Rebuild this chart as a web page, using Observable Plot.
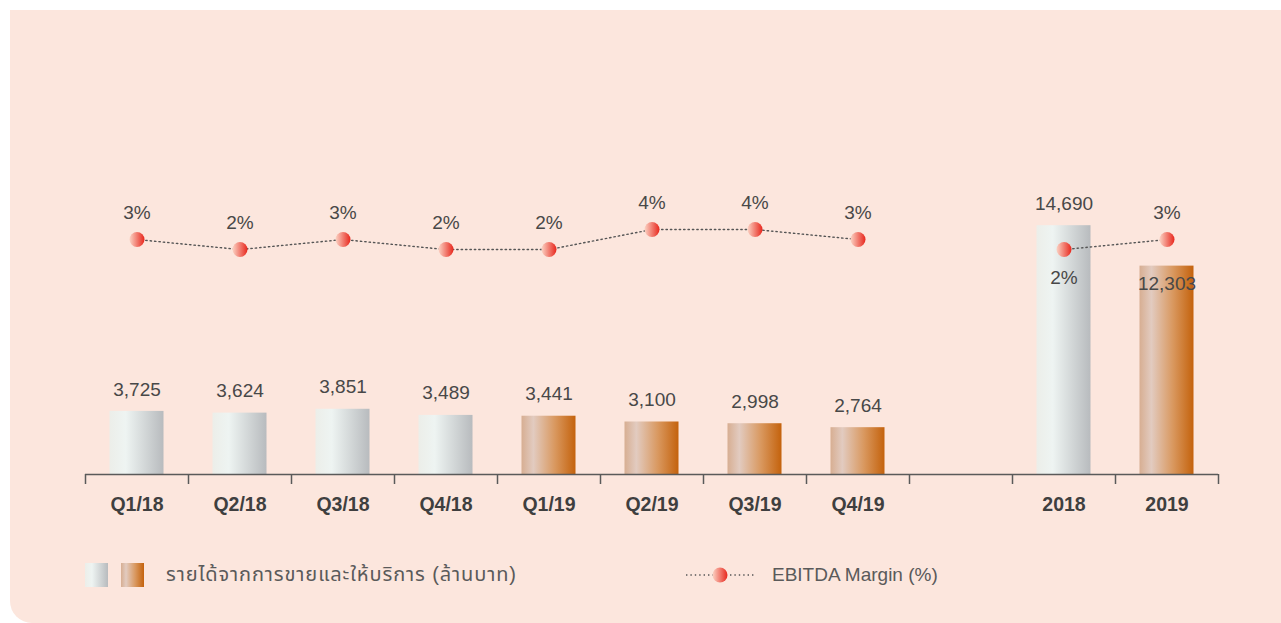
<!DOCTYPE html>
<html>
<head>
<meta charset="utf-8">
<script src="https://cdn.jsdelivr.net/npm/d3@7"></script>
<script src="https://cdn.jsdelivr.net/npm/@observablehq/plot@0.6"></script>
<style>
  html, body { margin: 0; padding: 0; background: #ffffff; overflow: hidden; }
  #panel {
    position: absolute; left: 10px; top: 10px; width: 1271px; height: 613px;
    background: #fce6dd; border-bottom-left-radius: 22px;
    font-family: "Liberation Sans", "Noto Sans Thai", "Loma", sans-serif;
  }
  #chart { position: absolute; left: 0; top: 0; }
  .legend { position: absolute; top: 553px; height: 24px; display: flex; align-items: center; color: #5a5a5a; font-size: 19px; }
  .sw { width: 23px; height: 24px; display: inline-block; }
  .gray { background: linear-gradient(to right, #eceee9 0%, #eef4f2 30%, #b8bbbe 100%); }
  .orange { background: linear-gradient(to right, #d7ae92 0%, #e2cbc0 22%, #d9985f 62%, #c4620c 100%); }
</style>
</head>
<body>
<div id="panel">
  <div id="chart"></div>
  <div class="legend" style="left:75px">
    <span class="sw gray"></span>
    <span class="sw orange" style="margin-left:13px"></span>
    <span style="margin-left:22px; font-size:20px; letter-spacing:0.9px">รายได้จากการขายและให้บริการ (ล้านบาท)</span>
  </div>
  <div class="legend" style="left:676px">
    <svg width="70" height="24">
      <defs>
        <linearGradient id="lgMarker" x1="0" x2="1" y1="0" y2="0">
          <stop offset="0%" stop-color="#fbd3c4"/>
          <stop offset="100%" stop-color="#e8271d"/>
        </linearGradient>
      </defs>
      <line x1="0" x2="68" y1="12" y2="12" stroke="#555" stroke-width="1.4" stroke-dasharray="1.4,3"/>
      <circle cx="34" cy="12" r="7.5" fill="url(#lgMarker)"/>
    </svg>
    <span style="margin-left:16px">EBITDA Margin (%)</span>
  </div>
</div>
<script>
// ---- data ----
const quarters = ["Q1/18", "Q2/18", "Q3/18", "Q4/18", "Q1/19", "Q2/19", "Q3/19", "Q4/19"];
const quarterYear = ["2018", "2018", "2018", "2018", "2019", "2019", "2019", "2019"];
const revenueQ = [3725, 3624, 3851, 3489, 3441, 3100, 2998, 2764];
const marginQ = [3, 2, 3, 2, 2, 4, 4, 3];
const years = ["2018", "2019"];
const revenueY = [14690, 12303];
const marginY = [2, 3];
const gapLabel = "gap";
const categories = [...quarters, gapLabel, ...years];

// ---- tables ----
const rows = [
  ...quarters.map((c, i) => ({cat: c, year: quarterYear[i], revenue: revenueQ[i], margin: marginQ[i], group: "q"})),
  ...years.map((c, i) => ({cat: c, year: c, revenue: revenueY[i], margin: marginY[i], group: "y"}))
];

// secondary (margin %) axis mapped into the revenue scale
const marginToRev = d3.scaleLinear().domain([2, 4]).range([13280, 14465]);

const W = 1271, H = 520, mL = 75, mR = 63, mT = 193, mB = 56;
const bw = (W - mL - mR) / categories.length;
const textColor = "#484848";
const fill = d => d.year === "2018" ? "url(#gGray)" : "url(#gOrange)";

const plot = Plot.plot({
  width: W, height: H,
  marginLeft: mL, marginRight: mR, marginTop: mT, marginBottom: mB,
  style: {background: "transparent", fontFamily: "'Liberation Sans', sans-serif", overflow: "visible"},
  x: {domain: categories, padding: 0, axis: null},
  y: {domain: [0, 16000], axis: null},
  marks: [
    Plot.barY(rows, {x: "cat", y: "revenue", fill, insetLeft: 24.5, insetRight: 24.5}),
    Plot.ruleY([0], {stroke: "#5a5a5a", strokeWidth: 1.5}),
    Plot.ruleX(categories, {x: d => d, y1: 0, y2: 0, dx: -bw / 2, insetBottom: -10, stroke: "#5a5a5a", strokeWidth: 1.5}),
    Plot.ruleX([categories[categories.length - 1]], {x: d => d, y1: 0, y2: 0, dx: bw / 2, insetBottom: -10, stroke: "#5a5a5a", strokeWidth: 1.5}),
    Plot.text(categories.filter(c => c !== gapLabel), {x: d => d, y: 0, text: d => d, dy: 30, fontSize: 19.5, fontWeight: "bold", fill: "#3f3f3f"}),
    // revenue labels
    Plot.text(rows.filter(d => d.cat !== "2019"), {x: "cat", y: "revenue", text: d => d3.format(",")(d.revenue), dy: -22, fontSize: 19, fill: textColor, letterSpacing: "0.5px"}),
    Plot.text(rows.filter(d => d.cat === "2019"), {x: "cat", y: "revenue", text: d => d3.format(",")(d.revenue), dy: 18, fontSize: 19, fill: textColor, letterSpacing: "0.5px"}),
    // EBITDA margin line
    Plot.line(rows, {x: "cat", y: d => marginToRev(d.margin), z: "group", stroke: "#555", strokeWidth: 1.4, strokeDasharray: "1.4,3", curve: "linear"}),
    Plot.dot(rows, {x: "cat", y: d => marginToRev(d.margin), r: 7.5, fill: "url(#gMarker)", stroke: "none"}),
    Plot.text(rows.filter(d => d.cat !== "2018"), {x: "cat", y: d => marginToRev(d.margin), text: d => d.margin + "%", dy: -27, fontSize: 19, fill: textColor}),
    Plot.text(rows.filter(d => d.cat === "2018"), {x: "cat", y: d => marginToRev(d.margin), text: d => d.margin + "%", dy: 28, fontSize: 19, fill: textColor})
  ]
});

const svg = d3.select(plot);
const defs = svg.insert("defs", ":first-child");
function grad(id, stops) {
  const g = defs.append("linearGradient").attr("id", id).attr("x1", "0").attr("x2", "1").attr("y1", "0").attr("y2", "0");
  stops.forEach(([o, c]) => g.append("stop").attr("offset", o).attr("stop-color", c));
}
grad("gGray", [["0%", "#eceee9"], ["30%", "#eef4f2"], ["100%", "#b8bbbe"]]);
grad("gOrange", [["0%", "#d7ae92"], ["22%", "#e2cbc0"], ["62%", "#d9985f"], ["100%", "#c4620c"]]);
grad("gMarker", [["0%", "#fbd3c4"], ["100%", "#e8271d"]]);

document.getElementById("chart").appendChild(plot);
</script>
</body>
</html>
